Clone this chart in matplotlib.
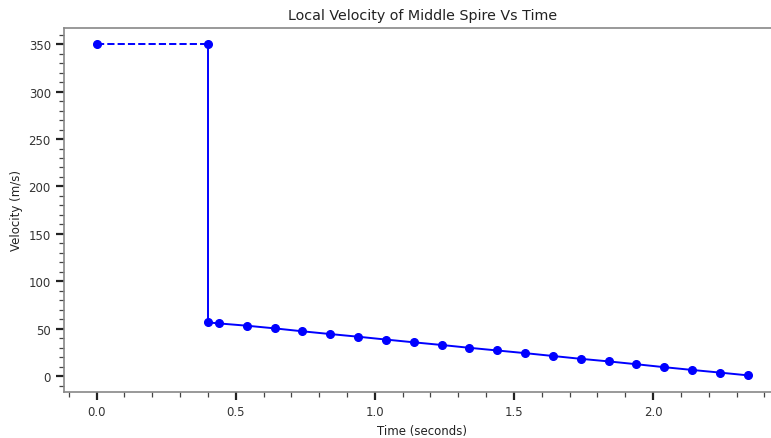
import matplotlib
matplotlib.use('Agg')
import matplotlib.pyplot as plt
from matplotlib.ticker import AutoMinorLocator

# phase 1: constant velocity before the impact
times_before = [0.0, 0.4]
velocity_before = [350, 350]

# phase 2: after the impact
times_after = [0.4, 0.4, 0.44, 0.54, 0.64, 0.74, 0.84, 0.94, 1.04, 1.14, 1.24,
               1.34, 1.44, 1.54, 1.64, 1.74, 1.84, 1.94, 2.04, 2.14, 2.24, 2.34]
velocity_after = [350, 56.8, 55.7, 53.3, 50.5, 47.4, 44.5, 41.7, 38.7, 35.8, 33.0,
                  30.0, 27.2, 24.4, 21.4, 18.4, 15.7, 12.7, 9.6, 6.7, 3.9, 1.0]

fig = plt.figure(figsize=(7.71, 4.39), dpi=100)
# the right edge of the axes sits just past the figure, as in the source image
ax = fig.add_axes([0.083, 0.105, 0.929, 0.83])
ax.set_xlim(-0.117, 2.457)

ax.plot(times_before, velocity_before, color='blue', linestyle='--',
        marker='o', markersize=5.5, linewidth=1.4)
ax.plot(times_after[:2], velocity_after[:2], color='blue', linestyle='-',
        linewidth=1.4)
ax.plot(times_after[1:], velocity_after[1:], color='blue', linestyle='-',
        marker='o', markersize=5.5, linewidth=1.4)

ax.set_title('Local Velocity of Middle Spire Vs Time', fontsize=10.3,
             color='#222222')
ax.set_xlabel('Time (seconds)', fontsize=8.5, color='#222222')
ax.set_ylabel('Velocity (m/s)', fontsize=8.5, color='#222222')

ax.xaxis.set_minor_locator(AutoMinorLocator(5))
ax.yaxis.set_minor_locator(AutoMinorLocator(5))
ax.tick_params(which='major', length=6, width=1.6, labelsize=8.5, colors='#222222',
               labelcolor='#333333')
ax.tick_params(which='minor', length=3.5, width=0.9, colors='#444444')

for side in ['top', 'bottom', 'left', 'right']:
    ax.spines[side].set_color('#888888')
    ax.spines[side].set_linewidth(1.2)

plt.savefig('out.png', dpi=100)
